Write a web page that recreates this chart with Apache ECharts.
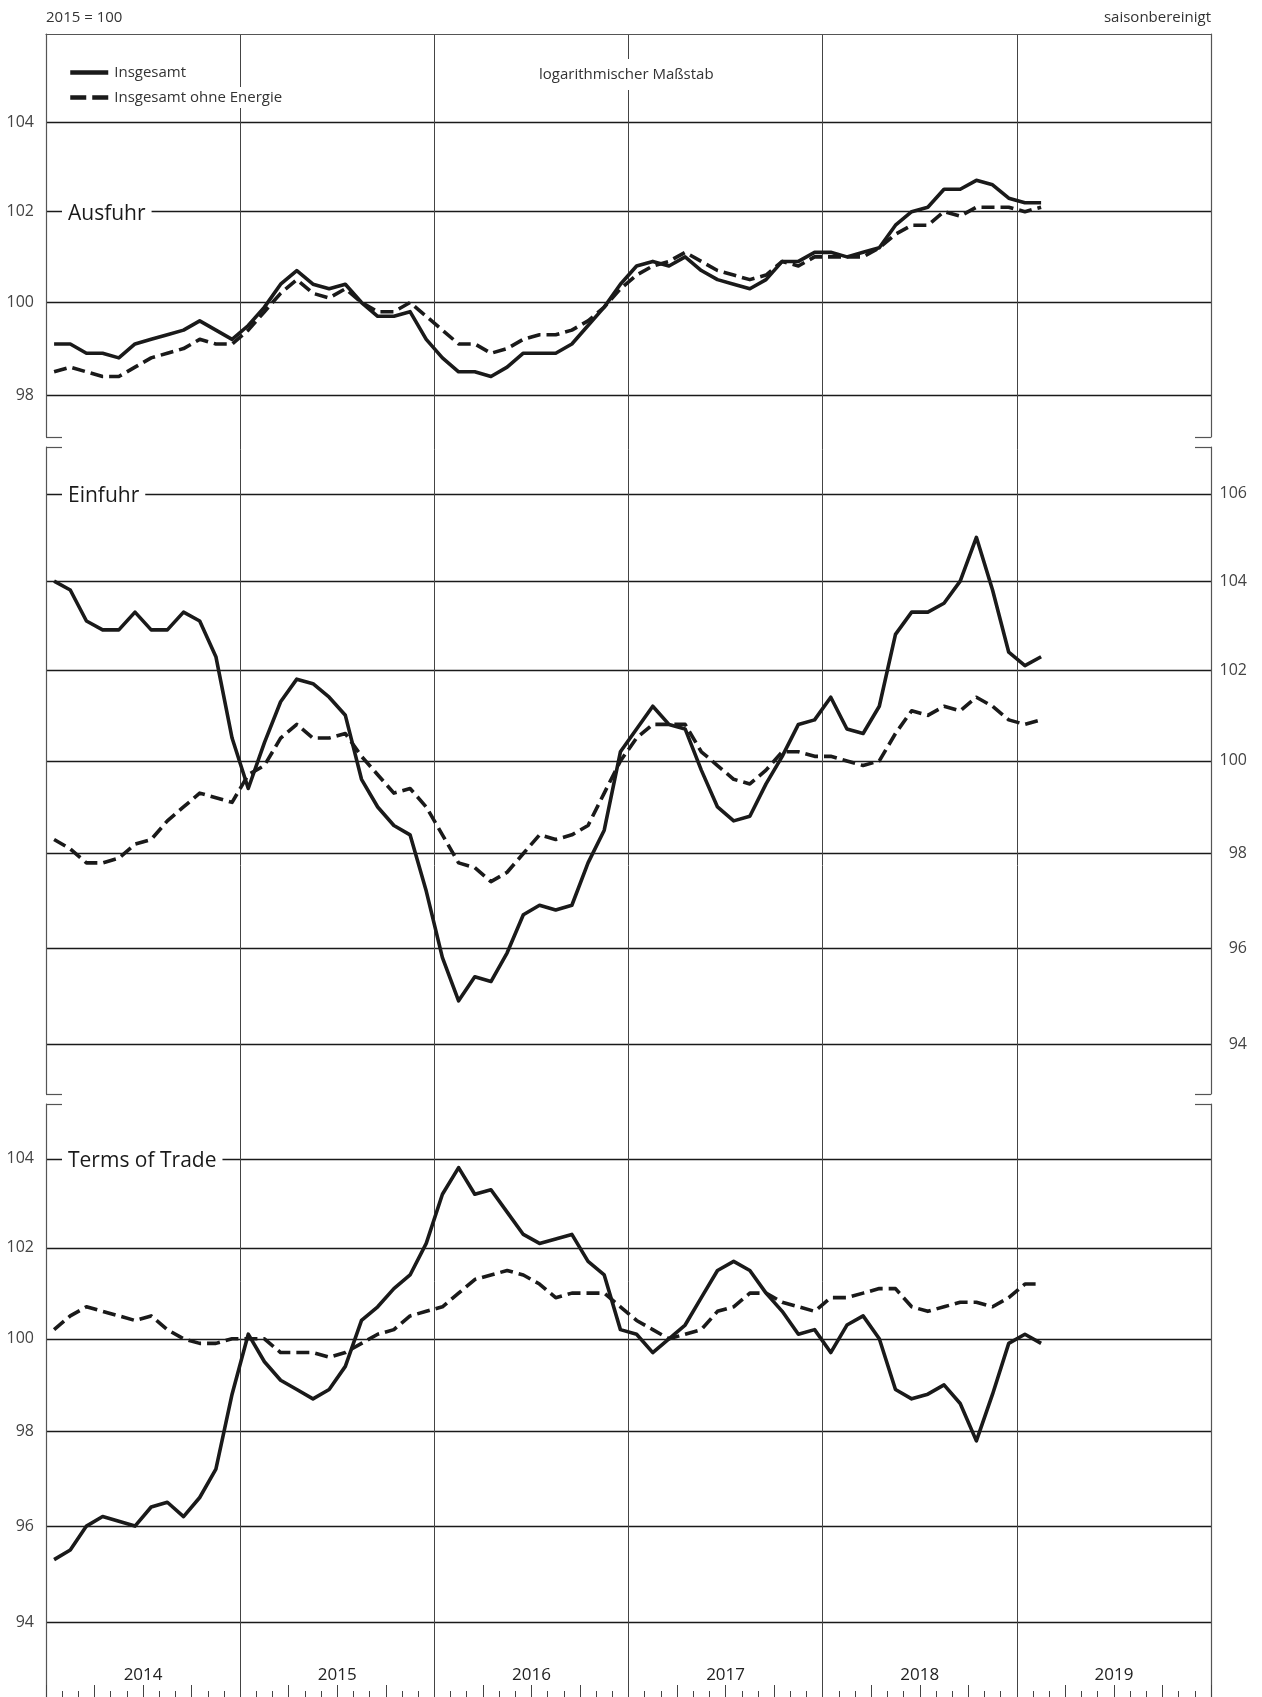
<!DOCTYPE html>
<html><head><meta charset="utf-8">
<script src="https://cdn.jsdelivr.net/npm/echarts@6/dist/echarts.min.js"></script>
<style>html,body{margin:0;padding:0;background:#fff}#c{width:1262px;height:1697px}</style>
</head><body><div id="c"></div>
<script>
// Monthly values Jan 2014 .. Feb 2019, 2015 = 100
const years = ['2014','2015','2016','2017','2018','2019'];
const ausfuhrGesamt = [99.1,99.1,98.9,98.9,98.8,99.1,99.2,99.3,99.4,99.6,99.4,99.2, 99.5,99.9,100.4,100.7,100.4,100.3,100.4,100.0,99.7,99.7,99.8,99.2, 98.8,98.5,98.5,98.4,98.6,98.9,98.9,98.9,99.1,99.5,99.9,100.4, 100.8,100.9,100.8,101.0,100.7,100.5,100.4,100.3,100.5,100.9,100.9,101.1, 101.1,101.0,101.1,101.2,101.7,102.0,102.1,102.5,102.5,102.7,102.6,102.3, 102.2,102.2];
const ausfuhrOhneEnergie = [98.5,98.6,98.5,98.4,98.4,98.6,98.8,98.9,99.0,99.2,99.1,99.1, 99.4,99.8,100.2,100.5,100.2,100.1,100.3,100.0,99.8,99.8,100.0,99.7, 99.4,99.1,99.1,98.9,99.0,99.2,99.3,99.3,99.4,99.6,99.9,100.3, 100.6,100.8,100.9,101.1,100.9,100.7,100.6,100.5,100.6,100.9,100.8,101.0, 101.0,101.0,101.0,101.2,101.5,101.7,101.7,102.0,101.9,102.1,102.1,102.1, 102.0,102.1];
const einfuhrGesamt = [104.0,103.8,103.1,102.9,102.9,103.3,102.9,102.9,103.3,103.1,102.3,100.5, 99.4,100.4,101.3,101.8,101.7,101.4,101.0,99.6,99.0,98.6,98.4,97.2, 95.8,94.9,95.4,95.3,95.9,96.7,96.9,96.8,96.9,97.8,98.5,100.2, 100.7,101.2,100.8,100.7,99.8,99.0,98.7,98.8,99.5,100.1,100.8,100.9, 101.4,100.7,100.6,101.2,102.8,103.3,103.3,103.5,104.0,105.0,103.8,102.4, 102.1,102.3];
const einfuhrOhneEnergie = [98.3,98.1,97.8,97.8,97.9,98.2,98.3,98.7,99.0,99.3,99.2,99.1, 99.7,99.9,100.5,100.8,100.5,100.5,100.6,100.1,99.7,99.3,99.4,99.0, 98.4,97.8,97.7,97.4,97.6,98.0,98.4,98.3,98.4,98.6,99.3,100.0, 100.5,100.8,100.8,100.8,100.2,99.9,99.6,99.5,99.8,100.2,100.2,100.1, 100.1,100.0,99.9,100.0,100.6,101.1,101.0,101.2,101.1,101.4,101.2,100.9, 100.8,100.9];
const totGesamt = [95.3,95.5,96.0,96.2,96.1,96.0,96.4,96.5,96.2,96.6,97.2,98.8, 100.1,99.5,99.1,98.9,98.7,98.9,99.4,100.4,100.7,101.1,101.4,102.1, 103.2,103.8,103.2,103.3,102.8,102.3,102.1,102.2,102.3,101.7,101.4,100.2, 100.1,99.7,100.0,100.3,100.9,101.5,101.7,101.5,101.0,100.6,100.1,100.2, 99.7,100.3,100.5,100.0,98.9,98.7,98.8,99.0,98.6,97.8,98.8,99.9, 100.1,99.9];
const totOhneEnergie = [100.2,100.5,100.7,100.6,100.5,100.4,100.5,100.2,100.0,99.9,99.9,100.0, 100.0,100.0,99.7,99.7,99.7,99.6,99.7,99.9,100.1,100.2,100.5,100.6, 100.7,101.0,101.3,101.4,101.5,101.4,101.2,100.9,101.0,101.0,101.0,100.7, 100.4,100.2,100.0,100.1,100.2,100.6,100.7,101.0,101.0,100.8,100.7,100.6, 100.9,100.9,101.0,101.1,101.1,100.7,100.6,100.7,100.8,100.8,100.7,100.9, 101.2,101.2];
const ausfuhrTicks = [98,100,102,104];
const einfuhrTicks = [94,96,98,100,102,104,106];
const totTicks = [94,96,98,100,102,104];
const ausfuhrRange = [97.11, 106.03];
const einfuhrRange = [92.99, 107.09];
const totRange = [92.49, 105.25];
const seriesNames = ['Insgesamt','Insgesamt ohne Energie'];

const FONT = 'Open Sans';
const INK = '#1a1a1a';
const FRAME = '#555';
const ln = Math.log;
const mk = arr => arr.map((v, i) => [i + 0.5, ln(v)]);

const panels = [
  {grid:{left:46,right:51,top:34,height:403}, range:ausfuhrRange, ticks:ausfuhrTicks, side:'left', brackets:['min'], a:ausfuhrGesamt, b:ausfuhrOhneEnergie},
  {grid:{left:46,right:51,top:447,height:647}, range:einfuhrRange, ticks:einfuhrTicks, side:'right', brackets:['min','max'], a:einfuhrGesamt, b:einfuhrOhneEnergie},
  {grid:{left:46,right:51,top:1104,bottom:0}, range:totRange, ticks:totTicks, side:'left', brackets:['max'], a:totGesamt, b:totOhneEnergie}
];

const grid = panels.map(p => p.grid).concat([{left:46,right:51,top:34,bottom:0}]);
const xAxis = [], yAxis = [], series = [];
panels.forEach((p, gi) => {
  const mn = ln(p.range[0]), mx = ln(p.range[1]);
  xAxis.push({type:'value', gridIndex:gi, min:0, max:72, position: gi === 0 ? 'top' : 'bottom',
    interval: 3,
    axisLine:{show: gi === 0, lineStyle:{color:FRAME, width:1.2}},
    axisTick:{show: gi === 2, inside:true, length:12, lineStyle:{color:'#444', width:1}},
    minorTick:{show: gi === 2, splitNumber:3, length:6, lineStyle:{color:'#444', width:1}},
    axisLabel:{show:false}, splitLine:{show:false}});
  // data / label axis
  yAxis.push({type:'value', gridIndex:gi, position:p.side, min:mn, max:mx,
    axisLine:{show:false},
    axisTick:{show:false, customValues:p.ticks.map(ln)},
    axisLabel:{show:true, customValues:p.ticks.map(ln), formatter:v => String(Math.round(Math.exp(v))),
      fontFamily:FONT, fontSize:16, color:'#444', margin: p.side === 'left' ? 12 : 36, align:'right'},
    splitLine:{show:true, lineStyle:{color:INK, width:1.3}}});
  const br = p.brackets.map(b => b === 'min' ? mn : mx);
  ['left','right'].forEach(pos => {
    yAxis.push({type:'value', gridIndex:gi, position:pos, min:mn, max:mx,
      axisLine:{show:true, lineStyle:{color:FRAME, width:1.2}},
      axisTick:{show:true, inside:true, length:16, customValues:br, lineStyle:{color:FRAME, width:1.2}},
      axisLabel:{show:false}, splitLine:{show:false}});
  });
  [p.a, p.b].forEach((arr, k) => {
    series.push({name:seriesNames[k], type:'line', xAxisIndex:gi, yAxisIndex:gi*3, data:mk(arr),
      symbol:'none', silent:true, z:3,
      lineStyle:{color:INK, width:3.6, type: k === 0 ? 'solid' : [13,6], join:'round'},
      itemStyle:{color:INK}});
  });
});
// background grid: year separator lines through all panels
xAxis.push({type:'value', gridIndex:3, min:0, max:72,
  axisLine:{show:false}, axisTick:{show:false, customValues:[12,24,36,48,60]},
  axisLabel:{show:false}, splitLine:{show:true, lineStyle:{color:'#444', width:1}}});
yAxis.push({type:'value', gridIndex:3, min:0, max:1, show:false});
// year labels
xAxis.push({type:'category', gridIndex:2, data:years, position:'bottom', boundaryGap:true,
  axisLine:{show:false}, axisTick:{show:false}, splitLine:{show:false},
  axisLabel:{inside:true, margin:13, fontFamily:FONT, fontSize:17, color:'#222'}});

const tStyle = (fs, c) => ({fontFamily:FONT, fontSize:fs, fontWeight:'normal', color:c || '#333'});
const option = {
  animation:false,
  backgroundColor:'#fff',
  grid, xAxis, yAxis, series,
  title:[
    {text:'2015 = 100', left:46, top:10, padding:0, textStyle:tStyle(15)},
    {text:'saisonbereinigt', right:51, top:10, padding:0, textStyle:tStyle(15)},
    {text:'logarithmischer Maßstab', left:533, top:59, padding:[8,6], backgroundColor:'#fff', textStyle:tStyle(15)},
    {text:'Ausfuhr', left:62, top:202, padding:[2,6], backgroundColor:'#fff', textStyle:tStyle(21,'#1a1a1a')},
    {text:'Einfuhr', left:62, top:484, padding:[2,6], backgroundColor:'#fff', textStyle:tStyle(21,'#1a1a1a')},
    {text:'Terms of Trade', left:62, top:1149, padding:[2,6], backgroundColor:'#fff', textStyle:tStyle(21,'#1a1a1a')}
  ],
  legend:{orient:'vertical', left:68, top:62, padding:0, itemWidth:38, itemHeight:14, itemGap:4,
    selectedMode:false,
    data:[{name:seriesNames[0]}, {name:seriesNames[1], lineStyle:{type:[16,6]}}],
    itemStyle:{opacity:0},
    lineStyle:{width:4.5},
    textStyle:{fontFamily:FONT, fontSize:15, color:'#333', backgroundColor:'#fff', padding:[3,3,3,1]}}
};
const chart = echarts.init(document.getElementById('c'), null, {renderer:'canvas'});
chart.setOption(option);
</script></body></html>
